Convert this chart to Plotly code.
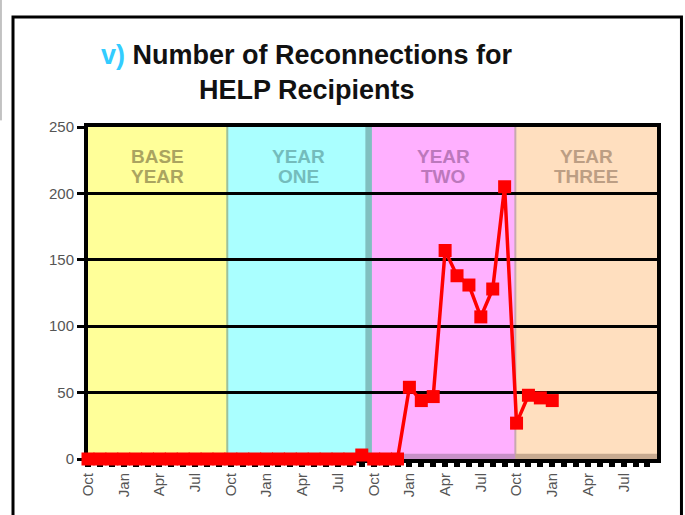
import plotly.graph_objects as go

# ---- data ----
month_names = ["Oct", "Nov", "Dec", "Jan", "Feb", "Mar", "Apr", "May", "Jun", "Jul", "Aug", "Sep"]
months = [month_names[i % 12] for i in range(40)]
reconnections = [0] * 23 + [3, 0, 0, 0, 54, 44, 47, 157, 138, 131, 107, 128, 205, 27, 48, 46, 44]
tick_labels = ["Oct", "Jan", "Apr", "Jul"] * 4
band_names = [("BASE", "YEAR"), ("YEAR", "ONE"), ("YEAR", "TWO"), ("YEAR", "THREE")]
band_edges = [0, 11.7, 23.75, 35.9, 47.8]
band_fill = ["#ffff99", "#aaffff", "#ffb0ff", "#ffdfbf"]
band_text = ["#aaa460", "#74bcbc", "#bc78bc", "#bc9e84"]
floor_fill = ["#ffff99", "#aaffff", "#c890c8", "#c8aa90"]

x_idx = list(range(len(reconnections)))

fig = go.Figure()
fig.add_trace(go.Scatter(
    x=x_idx, y=reconnections, mode="lines+markers",
    line=dict(color="#ff0000", width=3.5),
    marker=dict(color="#ff0000", size=13, symbol="square"),
    cliponaxis=False, hoverinfo="skip", showlegend=False,
    text=months,
))

shapes = []
for i in range(4):
    shapes.append(dict(type="rect", xref="x", yref="paper", x0=band_edges[i], x1=band_edges[i + 1],
                       y0=0, y1=1, fillcolor=band_fill[i], line=dict(width=0), layer="below"))
    shapes.append(dict(type="rect", xref="x", yref="y", x0=band_edges[i], x1=band_edges[i + 1],
                       y0=0, y1=4, fillcolor=floor_fill[i], line=dict(width=0), layer="below"))
# separators
shapes.append(dict(type="line", xref="x", yref="paper", x0=band_edges[1], x1=band_edges[1], y0=0, y1=1,
                   line=dict(color="#9cc09c", width=2), layer="below"))
shapes.append(dict(type="rect", xref="x", yref="paper", x0=23.3, x1=23.85, y0=0, y1=1,
                   fillcolor="#80c0c0", line=dict(width=0), layer="below"))
shapes.append(dict(type="line", xref="x", yref="paper", x0=band_edges[3], x1=band_edges[3], y0=0, y1=1,
                   line=dict(color="#c8a8b0", width=2), layer="below"))
# outer chart border
shapes.append(dict(type="rect", xref="paper", yref="paper", x0=-0.1318, x1=1.043, y0=-0.25, y1=1.331,
                   line=dict(color="black", width=3), fillcolor="rgba(0,0,0,0)", layer="above"))
shapes.append(dict(type="line", xref="paper", yref="paper", x0=-0.1529, x1=-0.1529, y0=1.02, y1=1.4,
                   line=dict(color="#888888", width=1), layer="above"))

annotations = []
for i in range(4):
    cx = (band_edges[i] + band_edges[i + 1]) / 2
    annotations.append(dict(x=cx, y=228, xref="x", yref="y", yanchor="middle", xanchor="center",
                            text="<b>%s</b>" % band_names[i][0], showarrow=False,
                            font=dict(family="Liberation Sans", size=19, color=band_text[i])))
    annotations.append(dict(x=cx, y=213, xref="x", yref="y", yanchor="middle", xanchor="center",
                            text="<b>%s</b>" % band_names[i][1], showarrow=False,
                            font=dict(family="Liberation Sans", size=19, color=band_text[i])))

annotations.append(dict(x=0.385, y=1.217, xref="paper", yref="paper", showarrow=False,
                        xanchor="center", yanchor="middle",
                        text="<b><span style='color:#33ccff'>v)</span> Number of Reconnections for</b>",
                        font=dict(family="Liberation Sans", size=27, color="#111111")))
annotations.append(dict(x=0.385, y=1.111, xref="paper", yref="paper", showarrow=False,
                        xanchor="center", yanchor="middle",
                        text="<b>HELP Recipients</b>",
                        font=dict(family="Liberation Sans", size=27, color="#111111")))

tickvals_x = list(range(0, 48))
ticktext_x = [tick_labels[i // 3] if i % 3 == 0 else "" for i in range(48)]

fig.update_layout(
    width=685, height=515,
    margin=dict(l=88, r=28, t=127, b=56),
    paper_bgcolor="white", plot_bgcolor="white",
    shapes=shapes, annotations=annotations,
    xaxis=dict(range=[0, 47.8], tickmode="array", tickvals=tickvals_x, ticktext=ticktext_x,
               tickangle=-90, ticks="outside", ticklen=4, tickwidth=6, tickcolor="black",
               showline=True, linecolor="black", linewidth=4, mirror=True, showgrid=False,
               zeroline=False, layer="below traces",
               tickfont=dict(family="Liberation Sans", size=15, color="#555555")),
    yaxis=dict(range=[0, 250], tickmode="array", tickvals=[0, 50, 100, 150, 200, 250],
               ticks="outside", ticklen=7, tickwidth=3, tickcolor="black",
               showline=True, linecolor="black", linewidth=4, mirror=True,
               showgrid=True, gridcolor="black", gridwidth=2.5, zeroline=False,
               layer="below traces",
               tickfont=dict(family="Liberation Sans", size=15, color="#555555")),
)

fig.write_html("out.html", config={"displayModeBar": False},
               post_script="document.body.style.margin='0px';")
